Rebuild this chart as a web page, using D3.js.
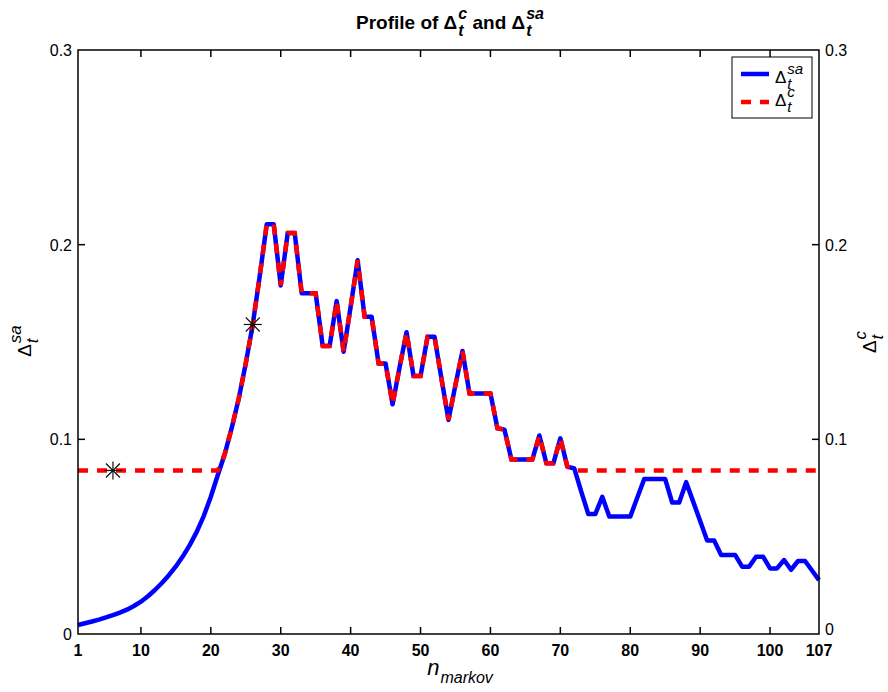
<!DOCTYPE html>
<html>
<head>
<meta charset="utf-8">
<script src="https://cdn.jsdelivr.net/npm/d3@7"></script>
<style>
  body { margin: 0; background: #fff; }
  svg text { font-family: "Liberation Sans", Arial, Helvetica, sans-serif; white-space: pre; }
</style>
</head>
<body>
<div id="visDiv"></div>
<script>
// values
var nMarkov = d3.range(1, 108);

var deltaSA = [
  0.0046, 0.0055, 0.0064, 0.0074, 0.0085, 0.0097, 0.0110, 0.0125, 0.0144, 0.0166,
  0.0194, 0.0226, 0.0262, 0.0302, 0.0347, 0.0399, 0.0458, 0.0526, 0.0607, 0.0705,
  0.0817, 0.0925, 0.1060, 0.1210, 0.1390, 0.1590, 0.1840, 0.2105, 0.2105, 0.1790,
  0.2060, 0.2060, 0.1750, 0.1750, 0.1750, 0.1480, 0.1480, 0.1710, 0.1450, 0.1680,
  0.1920, 0.1630, 0.1630, 0.1390, 0.1390, 0.1180, 0.1370, 0.1550, 0.1325, 0.1325,
  0.1527, 0.1527, 0.1310, 0.1100, 0.1280, 0.1454, 0.1236, 0.1236, 0.1236, 0.1236,
  0.1057, 0.1050, 0.0897, 0.0897, 0.0897, 0.0897, 0.1020, 0.0877, 0.0877, 0.1005,
  0.0860, 0.0850, 0.0730, 0.0616, 0.0616, 0.0705, 0.0603, 0.0603, 0.0603, 0.0603,
  0.0700, 0.0796, 0.0796, 0.0796, 0.0796, 0.0675, 0.0675, 0.0780, 0.0680, 0.0580,
  0.0480, 0.0480, 0.0406, 0.0406, 0.0406, 0.0346, 0.0346, 0.0397, 0.0397, 0.0337,
  0.0337, 0.0380, 0.0330, 0.0375, 0.0375, 0.0326, 0.0277
];

var deltaC = [
  0.0840, 0.0840, 0.0840, 0.0840, 0.0840, 0.0840, 0.0840, 0.0840, 0.0840, 0.0840,
  0.0840, 0.0840, 0.0840, 0.0840, 0.0840, 0.0840, 0.0840, 0.0840, 0.0840, 0.0840,
  0.0840, 0.0925, 0.1060, 0.1210, 0.1390, 0.1590, 0.1840, 0.2105, 0.2105, 0.1790,
  0.2060, 0.2060, 0.1750, 0.1750, 0.1750, 0.1480, 0.1480, 0.1710, 0.1450, 0.1680,
  0.1920, 0.1630, 0.1630, 0.1390, 0.1390, 0.1180, 0.1370, 0.1550, 0.1325, 0.1325,
  0.1527, 0.1527, 0.1310, 0.1100, 0.1280, 0.1454, 0.1236, 0.1236, 0.1236, 0.1236,
  0.1057, 0.1050, 0.0897, 0.0897, 0.0897, 0.0897, 0.1020, 0.0877, 0.0877, 0.1005,
  0.0860, 0.0840, 0.0840, 0.0840, 0.0840, 0.0840, 0.0840, 0.0840, 0.0840, 0.0840,
  0.0840, 0.0840, 0.0840, 0.0840, 0.0840, 0.0840, 0.0840, 0.0840, 0.0840, 0.0840,
  0.0840, 0.0840, 0.0840, 0.0840, 0.0840, 0.0840, 0.0840, 0.0840, 0.0840, 0.0840,
  0.0840, 0.0840, 0.0840, 0.0840, 0.0840, 0.0840, 0.0840
];

// asterisk markers
var starN = [6, 26];
var starV = [0.0840, 0.1590];

var xTicks = [1, 10, 20, 30, 40, 50, 60, 70, 80, 90, 100, 107];
var yTicks = [0, 0.1, 0.2, 0.3];

(function () {
  var W = 888, H = 692;
  var left = 78, right = 819, top = 50, bottom = 634;
  var tickLen = 7;

  var svg = d3.select('#visDiv').append('svg')
    .attr('width', W).attr('height', H);

  var x = d3.scaleLinear().domain([1, 107]).range([left, right]);
  var y = d3.scaleLinear().domain([0, 0.3]).range([bottom, top]);

  // rich text: parts are [text, kind] with kind 'n', 'sub' or 'sup'
  function rich(parent, parts, size, weight, subSize) {
    var g = parent.append('g');
    var cx = 0, i = 0;
    while (i < parts.length) {
      if (parts[i][1] === 'n') {
        var t = g.append('text').attr('x', cx).attr('y', 0)
          .style('font-size', size + 'px').style('font-weight', weight)
          .text(parts[i][0]);
        cx += t.node().getComputedTextLength();
        i++;
      } else {
        var w = 0;
        while (i < parts.length && parts[i][1] !== 'n') {
          var k = parts[i][1];
          var s = g.append('text').attr('x', cx + 1)
            .attr('y', k === 'sub' ? size * 0.38 : -size * 0.55)
            .style('font-size', subSize + 'px').style('font-weight', weight)
            .style('font-style', 'italic')
            .text(parts[i][0]);
          w = Math.max(w, s.node().getComputedTextLength() + 1);
          i++;
        }
        cx += w;
      }
    }
    g.width = cx;
    return g;
  }

  // lines
  var line = d3.line()
    .x(function(d, i) { return x(nMarkov[i]); })
    .y(function(d) { return y(d); });

  svg.append('path')
    .datum(deltaSA)
    .attr('fill', 'none')
    .attr('stroke', '#0000ff')
    .attr('stroke-width', 4.5)
    .attr('stroke-linejoin', 'round')
    .attr('d', line);

  svg.append('path')
    .datum(deltaC)
    .attr('fill', 'none')
    .attr('stroke', '#ff0000')
    .attr('stroke-width', 4.5)
    .attr('stroke-dasharray', '10,9')
    .attr('d', line);

  // asterisks
  var stars = svg.selectAll('.star').data(starN).enter().append('g')
    .attr('transform', function(d, i) { return 'translate(' + x(d) + ',' + y(starV[i]) + ')'; })
    .attr('stroke', '#111').attr('stroke-width', 1.2);
  stars.append('line').attr('x1', -9).attr('x2', 9).attr('y1', 0).attr('y2', 0);
  stars.append('line').attr('x1', 0).attr('x2', 0).attr('y1', -9).attr('y2', 9);
  stars.append('line').attr('x1', -7).attr('x2', 7).attr('y1', -7).attr('y2', 7);
  stars.append('line').attr('x1', -7).attr('x2', 7).attr('y1', 7).attr('y2', -7);

  // axes box
  var ax = svg.append('g').attr('stroke', '#000').attr('stroke-width', 1.5).attr('fill', 'none');
  ax.append('rect').attr('x', left).attr('y', top).attr('width', right - left).attr('height', bottom - top);

  xTicks.slice(1, -1).forEach(function(t) {
    ax.append('line').attr('x1', x(t)).attr('x2', x(t)).attr('y1', bottom).attr('y2', bottom - tickLen);
    ax.append('line').attr('x1', x(t)).attr('x2', x(t)).attr('y1', top).attr('y2', top + tickLen);
  });
  yTicks.slice(1, -1).forEach(function(t) {
    ax.append('line').attr('x1', left).attr('x2', left + tickLen).attr('y1', y(t)).attr('y2', y(t));
    ax.append('line').attr('x1', right).attr('x2', right - tickLen).attr('y1', y(t)).attr('y2', y(t));
  });

  // tick labels
  svg.selectAll('.xl').data(xTicks).enter().append('text')
    .attr('x', function(d) { return x(d); })
    .attr('y', bottom + 22)
    .attr('text-anchor', 'middle')
    .style('font-size', '16px').style('font-weight', 'bold')
    .text(function(d) { return d; });

  svg.selectAll('.yl').data(yTicks).enter().append('text')
    .attr('x', left - 6)
    .attr('y', function(d) { return y(d) + 6; })
    .attr('text-anchor', 'end')
    .style('font-size', '16px')
    .text(function(d) { return d === 0 ? '0' : d.toFixed(1); });

  svg.selectAll('.yr').data(yTicks).enter().append('text')
    .attr('x', right + 6)
    .attr('y', function(d) { return (d === 0 ? y(d) - 5 : y(d)) + 6; })
    .attr('text-anchor', 'start')
    .style('font-size', '16px')
    .text(function(d) { return d === 0 ? '0' : d.toFixed(1); });

  // title
  var title = rich(svg, [['Profile of \u0394', 'n'], ['t', 'sub'], ['c', 'sup'], [' and \u0394', 'n'], ['t', 'sub'], ['sa', 'sup']], 19, 'bold', 16);
  title.attr('transform', 'translate(' + (450 - title.width / 2) + ',29)');

  // x label
  var xl = rich(svg, [['n', 'n'], ['markov', 'sub']], 22, 'normal', 16);
  xl.select('text').style('font-style', 'italic');
  xl.attr('transform', 'translate(' + (460 - xl.width / 2) + ',675)');

  // y labels
  var yl = svg.append('g').attr('transform', 'translate(31,341) rotate(-90)');
  var ylt = rich(yl, [['\u0394', 'n'], ['t', 'sub'], ['sa', 'sup']], 19, 'normal', 17);
  ylt.attr('transform', 'translate(' + (-ylt.width / 2) + ',0)');

  var yr = svg.append('g').attr('transform', 'translate(876,342) rotate(-90)');
  var yrt = rich(yr, [['\u0394', 'n'], ['t', 'sub'], ['c', 'sup']], 19, 'normal', 17);
  yrt.attr('transform', 'translate(' + (-yrt.width / 2) + ',0)');

  // legend
  var lg = svg.append('g');
  lg.append('rect').attr('x', 732).attr('y', 57).attr('width', 80).attr('height', 61)
    .attr('fill', '#fff').attr('stroke', '#000').attr('stroke-width', 1);
  lg.append('line').attr('x1', 741).attr('x2', 769).attr('y1', 74).attr('y2', 74)
    .attr('stroke', '#0000ff').attr('stroke-width', 4.5);
  lg.append('line').attr('x1', 741).attr('x2', 769).attr('y1', 102).attr('y2', 102)
    .attr('stroke', '#ff0000').attr('stroke-width', 4.5).attr('stroke-dasharray', '10,9');
  var l1 = rich(lg, [['\u0394', 'n'], ['t', 'sub'], ['sa', 'sup']], 17, 'normal', 15);
  l1.attr('transform', 'translate(775,83)');
  var l2 = rich(lg, [['\u0394', 'n'], ['t', 'sub'], ['c', 'sup']], 17, 'normal', 15);
  l2.attr('transform', 'translate(775,106)');
})();
</script>
</body>
</html>
